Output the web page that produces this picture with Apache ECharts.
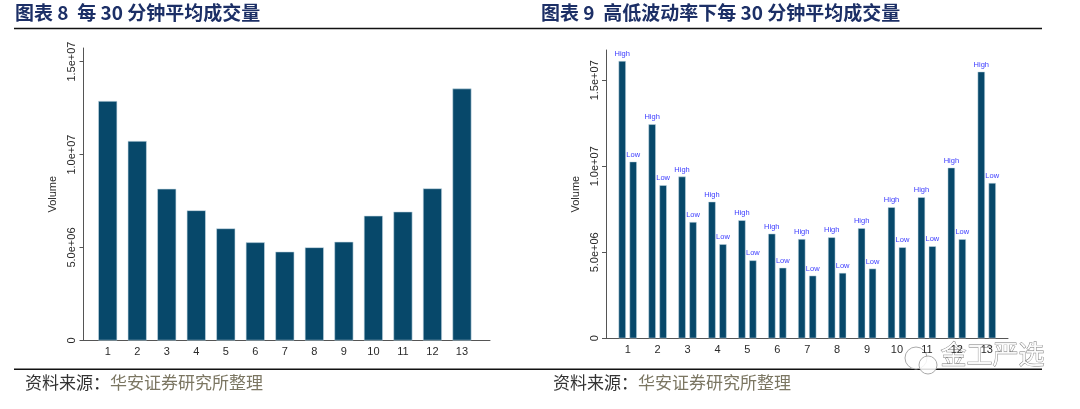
<!DOCTYPE html>
<html>
<head>
<meta charset="utf-8">
<script src="https://cdn.jsdelivr.net/npm/echarts@6/dist/echarts.min.js"></script>
<style>
html,body{margin:0;padding:0;background:#fff;}
#c{width:1080px;height:409px;}
</style>
</head>
<body>
<div id="c"></div>
<script>
// ---- data ----
var categories = [1, 2, 3, 4, 5, 6, 7, 8, 9, 10, 11, 12, 13];
var avgVolume = [12.88e6, 10.73e6, 8.16e6, 7.0e6, 6.03e6, 5.28e6, 4.78e6, 5.01e6, 5.31e6, 6.71e6, 6.93e6, 8.18e6, 13.55e6];
var highVolume = [16.12e6, 12.44e6, 9.40e6, 7.94e6, 6.86e6, 6.08e6, 5.77e6, 5.87e6, 6.40e6, 7.62e6, 8.20e6, 9.92e6, 15.50e6];
var lowVolume = [10.27e6, 8.90e6, 6.76e6, 5.47e6, 4.53e6, 4.10e6, 3.64e6, 3.80e6, 4.05e6, 5.29e6, 5.35e6, 5.76e6, 9.03e6];
var yTickValues = [0, 5e6, 1e7, 1.5e7];
var yTickLabels = ['0', '5.0e+06', '1.0e+07', '1.5e+07'];
var title1 = '图表 8  每 30 分钟平均成交量';
var title2 = '图表 9  高低波动率下每 30 分钟平均成交量';
var sourceLead = '资料来源：';
var sourceBody = '华安证券研究所整理';
var highLabel = 'High';
var lowLabel = 'Low';
var yName = 'Volume';

// ---- styles ----
var barColor = '#07486a';
var axisColor = '#555';
var labelColor = '#2a2a2a';
var font = 'Liberation Sans, Arial, sans-serif';

function pairs(vals) {
  return categories.map(function (c, i) { return [c, vals[i]]; });
}
function yLabelFmt(v) {
  var i = yTickValues.indexOf(v);
  return i >= 0 ? yTickLabels[i] : '';
}

function makeX(idx, min, max) {
  return {
    type: 'value', gridIndex: idx, min: min, max: max,
    axisLine: { show: true, lineStyle: { color: axisColor, width: 1 } },
    axisTick: { show: false },
    splitLine: { show: false },
    axisLabel: { customValues: categories, color: labelColor, fontSize: 11, fontFamily: font, margin: 6 }
  };
}
function makeY(idx, max) {
  return {
    type: 'value', gridIndex: idx, min: 0, max: max,
    name: yName, nameLocation: 'middle', nameGap: 25, nameRotate: 90,
    nameTextStyle: { color: labelColor, fontSize: 11, fontFamily: font },
    axisLine: { show: true, lineStyle: { color: axisColor, width: 1 } },
    axisTick: { show: true, length: 4, customValues: yTickValues, lineStyle: { color: axisColor } },
    splitLine: { show: false },
    axisLabel: { customValues: yTickValues, rotate: 90, formatter: yLabelFmt, color: labelColor, fontSize: 11, fontFamily: font, margin: 6 }
  };
}

var chart = echarts.init(document.getElementById('c'), null, { renderer: 'canvas' });
var srcRich = {
  a: { fill: '#333', fontSize: 17, fontFamily: 'Noto Sans CJK SC' },
  b: { fill: '#7b7662', fontSize: 17, fontFamily: 'Noto Sans CJK SC' }
};
var option = {
  animation: false,
  backgroundColor: '#fff',
  grid: [
    { left: 83.5, top: 48, width: 406.5, height: 292.5, outerBoundsMode: 'none' },
    { left: 606, top: 50, width: 402, height: 288.3, outerBoundsMode: 'none' }
  ],
  xAxis: [makeX(0, 0.18, 13.95), makeX(1, 0.275, 13.71)],
  yAxis: [makeY(0, 15.73e6), makeY(1, 16.76e6)],
  series: [
    {
      type: 'bar', xAxisIndex: 0, yAxisIndex: 0, data: pairs(avgVolume),
      barWidth: 19, itemStyle: { color: barColor, borderColor: '#c9dce6', borderWidth: 0.6 }
    },
    {
      type: 'bar', xAxisIndex: 1, yAxisIndex: 1, data: pairs(highVolume),
      barWidth: 7.3, barGap: '50%', itemStyle: { color: barColor, borderColor: '#c9dce6', borderWidth: 0.5 },
      label: { show: true, position: 'top', distance: 3, formatter: highLabel, color: '#3b3bff', fontSize: 7.5, fontFamily: font }
    },
    {
      type: 'bar', xAxisIndex: 1, yAxisIndex: 1, data: pairs(lowVolume),
      barWidth: 7.3, barGap: '50%', itemStyle: { color: barColor, borderColor: '#c9dce6', borderWidth: 0.5 },
      label: { show: true, position: 'top', distance: 3, formatter: lowLabel, color: '#3b3bff', fontSize: 7.5, fontFamily: font }
    }
  ],
  graphic: [
    { type: 'text', left: 15, top: 3, style: { text: title1, fill: '#1c2f66', fontSize: 19, fontWeight: 'bold', fontFamily: 'Noto Sans CJK SC' } },
    { type: 'text', left: 541, top: 3, style: { text: title2, fill: '#1c2f66', fontSize: 19, fontWeight: 'bold', fontFamily: 'Noto Sans CJK SC' } },
    { type: 'line', shape: { x1: 14, y1: 28.5, x2: 1042, y2: 28.5 }, style: { stroke: '#111', lineWidth: 1.6 } },
    { type: 'line', shape: { x1: 14, y1: 369.3, x2: 1042, y2: 369.3 }, style: { stroke: '#111', lineWidth: 1.6 } },
    { type: 'text', left: 25, top: 374, style: { rich: srcRich, text: '{a|' + sourceLead + '}{b|' + sourceBody + '}' } },
    { type: 'text', left: 553, top: 374, style: { rich: srcRich, text: '{a|' + sourceLead + '}{b|' + sourceBody + '}' } },
    // watermark
    { type: 'circle', shape: { cx: 916, cy: 358, r: 11 }, style: { fill: 'rgba(255,255,255,0.85)', stroke: '#aaa', lineWidth: 1 } },
    { type: 'circle', shape: { cx: 928, cy: 365, r: 9 }, style: { fill: 'rgba(255,255,255,0.85)', stroke: '#aaa', lineWidth: 1 } },
    { type: 'text', left: 940, top: 341, style: { text: '金工严选', fill: 'rgba(255,255,255,0.9)', stroke: '#777', lineWidth: 0.8, fontSize: 26, fontFamily: 'Noto Sans CJK SC' } }
  ]
};
chart.setOption(option);
</script>
</body>
</html>
